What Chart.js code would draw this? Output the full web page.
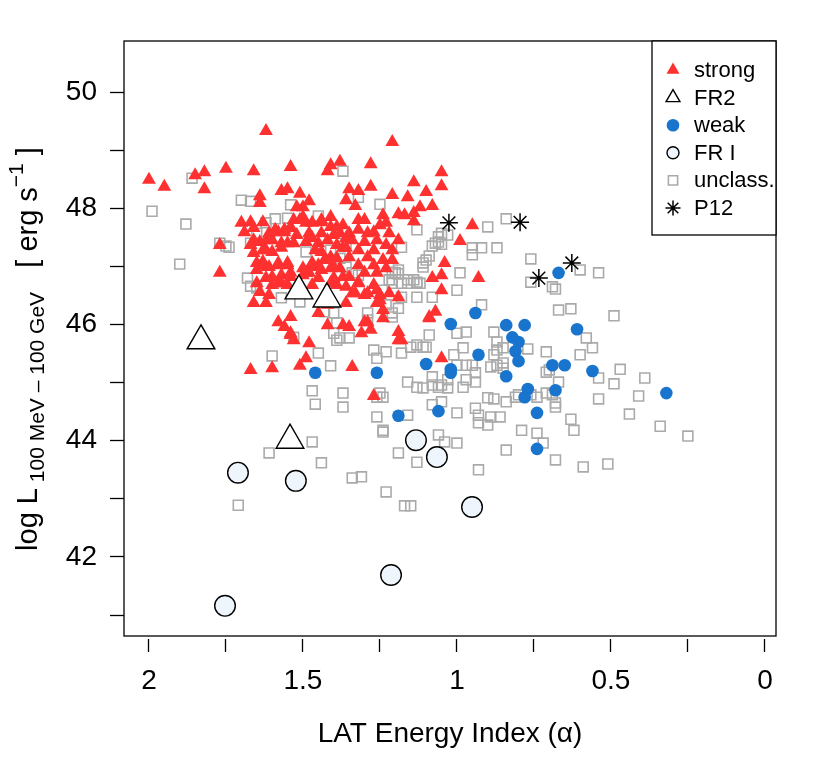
<!DOCTYPE html>
<html>
<head>
<meta charset="utf-8">
<script src="https://cdn.jsdelivr.net/npm/chart.js@4.4.1/dist/chart.umd.min.js"></script>
<style>
  html, body { margin: 0; padding: 0; background: #fff; }
  #wrap { width: 830px; height: 761px; }
</style>
</head>
<body>
<div id="wrap"><canvas id="c" width="830" height="761"></canvas></div>
<script>
const FONT = '"Liberation Sans", Arial, Helvetica, sans-serif';
Chart.defaults.font.family = FONT;
Chart.defaults.color = '#000';

// axis ticks
const xTickValues = [2, 1.75, 1.5, 1.25, 1, 0.75, 0.5, 0.25, 0];
const xTickLabels = ['2', '', '1.5', '', '1', '', '0.5', '', '0'];
const yTickValues = [41, 42, 43, 44, 45, 46, 47, 48, 49, 50];
const yTickLabels = ['', '42', '', '44', '', '46', '', '48', '', '50'];

const legendNames = ['strong', 'FR2', 'weak', 'FR I', 'unclass.', 'P12'];

// [alpha, log L]
const strongPts = [
  [2.00,48.49],[1.95,48.37],[1.85,48.57],[1.82,48.62],[1.82,48.33],[1.75,48.68],[1.66,48.64],[1.62,49.33],
  [1.54,48.71],[1.41,48.74],[1.38,48.80],[1.42,48.64],[1.21,49.14],[1.28,48.76],[1.05,48.62],[1.05,48.38],
  [1.14,48.45],[1.28,48.37],[1.35,48.33],[1.32,48.30],[1.10,48.28],[1.21,48.23],[1.16,48.19],[1.36,48.14],
  [1.33,48.04],[1.08,48.04],[1.12,48.02],[1.64,48.21],[1.64,48.09],[1.57,48.30],[1.55,48.33],[1.51,48.25],
  [1.48,48.12],[1.52,48.02],[1.50,48.02],[1.77,47.37],[1.77,46.89],[1.70,47.75],[1.67,47.76],[1.69,47.59],
  [0.95,47.71],[0.99,47.44],[1.04,47.06],[1.05,46.85],[0.93,46.80],[1.08,46.80],[1.05,46.59],[1.24,47.88],
  [1.19,47.90],[1.17,47.88],[1.14,47.92],[1.14,47.78],[1.23,47.75],[1.32,47.80],[1.30,47.80],
  [1.66,47.66],[1.63,47.76],[1.53,47.80],[1.50,47.85],[1.49,47.75],[1.44,47.76],[1.41,47.85],[1.41,47.68],
  [1.61,47.57],[1.58,47.59],[1.56,47.63],[1.54,47.66],[1.52,47.54],[1.48,47.57],[1.47,47.49],[1.44,47.57],
  [1.40,47.54],[1.38,47.57],[1.36,47.49],[1.64,47.42],[1.67,47.37],[1.62,47.45],[1.60,47.45],[1.55,47.40],
  [1.53,47.40],[1.49,47.42],[1.45,47.40],[1.42,47.45],[1.39,47.37],[1.37,47.32],[1.66,47.23],[1.62,47.28],
  [1.60,47.25],[1.57,47.32],[1.46,47.28],[1.44,47.25],[1.41,47.16],[1.39,47.14],[1.63,47.08],[1.65,46.94],
  [1.61,46.99],[1.58,47.02],[1.55,47.02],[1.50,46.97],[1.47,46.99],[1.45,47.02],[1.41,46.97],[1.38,46.97],
  [1.62,46.80],[1.57,46.85],[1.54,46.82],[1.50,46.85],[1.48,46.89],[1.45,46.80],[1.40,46.80],[1.37,46.82],
  [1.60,46.68],[1.47,46.68],[1.41,46.71],
  [1.37,47.71],[1.25,47.71],[1.35,47.57],[1.32,47.63],[1.29,47.57],[1.27,47.59],[1.22,47.57],[1.34,47.45],
  [1.30,47.42],[1.26,47.45],[1.19,47.45],[1.23,47.37],[1.36,47.32],[1.32,47.28],[1.27,47.28],[1.21,47.28],
  [1.35,47.16],[1.29,47.16],[1.24,47.11],[1.21,47.11],[1.32,47.02],[1.27,47.02],[1.23,46.97],[1.30,46.89],
  [1.26,46.89],[1.35,46.82],[1.32,46.73],[1.27,46.68],[1.36,46.65],
  [1.58,46.71],[1.55,46.68],[1.64,46.56],[1.61,46.51],[1.66,46.37],[1.62,46.37],[1.39,46.68],[1.34,46.54],
  [1.25,46.51],[1.26,46.37],[1.24,46.25],[1.24,46.11],[1.19,46.47],[1.36,46.37],[1.42,46.34],[1.30,46.51],
  [1.54,46.13],[1.58,46.04],[1.56,45.96],[1.42,45.99],[1.37,45.99],[1.35,45.96],[1.30,46.04],[1.28,45.91],
  [1.31,45.85],[1.54,45.85],[1.53,45.73],[1.48,45.68],[1.19,45.87],[1.19,45.73],[1.18,45.73],[1.49,45.42],
  [1.34,45.27],[1.60,45.25],[1.09,46.13],[1.07,46.22],[1.05,45.42],
  [1.67,45.22],[1.51,45.29],[1.54,45.82],[1.45,46.20],
  [1.32,46.71],[1.33,46.54],[1.29,46.54],[1.26,46.59],[1.22,46.54],[1.25,46.42],[1.29,46.04],[1.09,46.11],
  [1.27,44.77],
  [1.66,47.45],[1.63,47.28],[1.57,47.40],[1.59,47.63],[1.56,47.59],[1.54,47.68],[1.51,47.80],[1.47,47.75],
  [1.44,47.80],[1.39,47.68],[1.65,47.06],[1.63,46.99],[1.58,47.06],[1.55,47.06],[1.47,47.06],[1.43,47.11],
  [1.60,46.82],[1.54,46.89],[1.49,46.89],[1.44,46.94],[1.40,46.99],[1.65,46.71],[1.57,46.71]
];

const fr2Pts = [[1.831,45.72],[1.513,46.58],[1.422,46.44],[1.542,44.01]];

const weakPts = [
  [1.46,45.17],[1.26,45.17],[1.19,44.43],[1.10,45.32],[1.06,44.51],[1.02,46.01],[1.02,45.23],[1.02,45.17],
  [0.94,46.20],[0.93,45.48],[0.84,45.11],[0.84,45.99],[0.82,45.78],[0.81,45.54],[0.80,45.70],[0.80,45.37],
  [0.78,45.99],[0.78,44.75],[0.77,44.89],[0.74,44.48],[0.74,43.86],[0.69,45.30],[0.68,44.87],[0.67,46.89],
  [0.65,45.30],[0.61,45.92],[0.56,45.20],[0.32,44.82]
];

const fr1Pts = [[1.711,43.45],[1.523,43.31],[1.133,44.01],[1.065,43.72],[0.951,42.86],[1.214,41.69],[1.753,41.16]];

const unclassPts = [
  [1.86,48.52],[1.99,47.95],[1.88,47.73],[1.90,47.04],[1.70,48.14],[1.67,48.12],[1.54,48.06],[1.59,47.82],
  [1.55,47.83],[1.62,47.75],[1.45,47.87],[1.65,47.57],[1.67,47.40],[1.75,47.35],[1.77,47.40],[1.49,47.25],
  [1.41,47.28],[1.37,48.64],[1.68,46.80],[1.67,46.66],[1.65,46.63],[1.74,47.33],[1.36,47.40],
  [1.25,48.07],[1.32,48.19],[1.13,47.63],[1.03,47.54],[1.06,47.51],[1.05,47.38],[1.06,47.42],[1.08,47.35],
  [1.09,47.18],[1.11,47.06],[1.11,46.99],[1.18,47.33],[0.90,47.68],[0.84,47.82],[0.95,47.32],[0.92,47.32],
  [0.87,47.32],[0.95,47.20],[0.76,47.13],[0.99,46.89],[1.20,46.89],[1.19,46.87],[1.18,46.71],[1.13,46.73],
  [1.13,46.71],[1.22,46.77],[1.00,46.59],[0.69,46.65],[0.76,46.73],[1.32,46.85],[1.34,46.89],
  [1.07,47.40],[1.05,47.57],[1.10,47.11],[1.21,46.90],[1.19,46.94],[1.21,46.77],[1.14,46.77],[1.38,47.14],
  [1.36,46.99],
  [0.60,46.94],[0.54,46.89],[0.68,46.61],[0.67,46.25],[0.63,46.27],[0.49,46.15],[0.58,45.77],[0.56,45.60],
  [0.60,45.48],[0.47,45.23],[0.54,45.08],[0.49,44.98],[0.39,45.08],[0.67,45.01],[0.54,44.72],[0.41,44.77],
  [0.68,44.58],[0.44,44.46],[0.63,44.37],[0.62,44.18],[0.34,44.25],[0.25,44.08],[0.68,43.67],[0.59,43.55],
  [0.51,43.60],
  [1.21,46.71],[1.16,46.71],[1.12,46.71],[1.24,46.59],[1.18,46.47],[1.13,46.47],[1.08,46.47],[1.19,46.28],
  [1.21,46.13],[1.35,45.77],[1.38,45.77],[1.37,44.58],[1.37,44.82],[1.27,45.56],[1.23,45.53],[1.26,45.42],
  [1.18,45.51],[1.15,45.61],[1.11,45.61],[1.10,45.61],[1.09,45.82],[1.00,45.85],[0.97,45.87],[0.98,45.60],
  [1.01,45.48],[1.00,45.30],[0.97,45.30],[0.95,45.30],[0.94,45.17],[0.97,45.05],[0.94,45.01],[0.98,44.92],
  [1.03,45.05],[1.05,44.96],[1.03,44.91],[1.06,44.92],[1.08,44.96],[1.08,45.10],[1.11,44.91],[1.13,44.92],
  [1.16,45.01],[1.25,44.82],[1.24,44.75],[1.26,44.75],[1.08,44.62],[1.05,44.67],[1.00,44.48],[0.92,46.34],
  [0.88,45.87],[0.87,45.70],[0.87,45.56],[0.85,45.60],[0.88,45.48],[0.87,45.30],[0.89,45.27],[0.85,45.25],
  [0.85,45.34],[0.77,45.58],[0.71,45.53],[0.71,45.18],[0.70,45.22],[0.69,44.79],[0.71,44.82],[0.74,44.75],
  [0.76,44.79],[0.68,44.65],[0.80,44.79],[0.81,44.75],[0.84,44.67],[0.88,44.72],[0.90,44.74],[0.94,44.56],
  [0.93,44.44],[0.89,44.41],[0.86,44.41],[0.93,44.31],[0.90,44.27],[1.16,44.44],[1.26,44.41],[1.24,44.18],
  [1.06,44.10],[1.04,43.98],[1.00,43.96],[1.13,43.63],[1.19,43.79],[0.93,43.50],[0.84,43.84],[0.79,44.18],
  [0.74,44.13],[0.72,43.96],[1.31,43.38],[1.34,43.36],
  [1.57,46.46],[1.51,46.39],[1.40,46.20],[1.43,46.22],[1.39,46.03],[1.39,45.73],[1.53,45.78],[1.60,45.46],
  [1.45,45.51],[1.41,45.29],[1.47,44.86],[1.46,44.63],[1.47,43.98],[1.61,43.79],[1.44,43.62],
  [1.24,44.15],[1.23,43.12],[1.17,42.88],[1.15,42.88],[1.71,42.89],
  [1.16,46.77],[1.23,46.34],[1.21,46.20],[1.29,46.20],[1.29,46.08],[1.40,45.85],[1.13,45.65]
];

const p12Pts = [[1.026,47.75],[0.795,47.76],[0.734,46.80],[0.627,47.06]];

const toXY = pts => pts.map(p => ({ x: p[0], y: p[1] }));

const styles = {
  strong:  { pointStyle: 'triangle', bg: '#ff3030', border: '#ff3030', bw: 0, r: 8, lr: 7.5 },
  fr2:     { pointStyle: 'triangle', bg: '#ffffff', border: '#000000', bw: 1.4, r: 16, lr: 8 },
  weak:    { pointStyle: 'circle', bg: '#1874cd', border: '#1874cd', bw: 0, r: 6.3, lr: 6.3 },
  fr1:     { pointStyle: 'circle', bg: '#eef5fc', border: '#000000', bw: 1.4, r: 10.3, lr: 6 },
  unclass: { pointStyle: 'rect', bg: 'rgba(0,0,0,0)', border: '#aaaaaa', bw: 1.6, r: 7, lr: 6.5 },
  p12:     { pointStyle: 'star', bg: '#000000', border: '#000000', bw: 1.5, r: 9, lr: 7.5 }
};
const legendKeys = ['strong', 'fr2', 'weak', 'fr1', 'unclass', 'p12'];

function ds(label, pts, s, order) {
  return {
    label,
    data: toXY(pts),
    pointStyle: s.pointStyle,
    pointRadius: s.r,
    pointBackgroundColor: s.bg,
    pointBorderColor: s.border,
    pointBorderWidth: s.bw,
    showLine: false,
    order
  };
}

// box, rotated y title and legend
const decor = {
  id: 'decor',
  afterDraw(chart) {
    const ctx = chart.ctx;
    const a = chart.chartArea;
    ctx.save();
    ctx.strokeStyle = '#000';
    ctx.lineWidth = 1.3;
    ctx.strokeRect(a.left, a.top, a.right - a.left, a.bottom - a.top);

    // y axis title
    const big = '29px ' + FONT, small = '21px ' + FONT;
    const parts = [
      { t: 'log L', f: big, dy: 0 },
      { t: ' 100 MeV \u2013 100 GeV', f: small, dy: 7 },
      { t: '   [ erg s', f: big, dy: 0 },
      { t: '\u22121', f: small, dy: -14 },
      { t: ' ]', f: big, dy: 0 }
    ];
    let total = 0;
    parts.forEach(p => { ctx.font = p.f; p.w = ctx.measureText(p.t).width; total += p.w; });
    ctx.translate(37, 349);
    ctx.rotate(-Math.PI / 2);
    ctx.fillStyle = '#000';
    ctx.textBaseline = 'alphabetic';
    ctx.textAlign = 'left';
    let x = -total / 2;
    parts.forEach(p => { ctx.font = p.f; ctx.fillText(p.t, x, p.dy); x += p.w; });
    ctx.setTransform(1, 0, 0, 1, 0, 0);

    // legend
    const lx = 652, ly = a.top, lw = a.right - 652, lh = 194;
    ctx.fillStyle = '#fff';
    ctx.fillRect(lx, ly, lw, lh);
    ctx.strokeStyle = '#000';
    ctx.lineWidth = 1.3;
    ctx.strokeRect(lx, ly, lw, lh);
    ctx.font = '22px ' + FONT;
    ctx.textBaseline = 'middle';
    legendKeys.forEach((k, i) => {
      const s = styles[k];
      const y = ly + 29 + i * 27.6;
      ctx.fillStyle = s.bg;
      ctx.strokeStyle = s.border;
      ctx.lineWidth = s.bw;
      Chart.helpers.drawPoint(ctx, { pointStyle: s.pointStyle, radius: s.lr, rotation: 0, borderWidth: s.bw }, 673, y);
      ctx.fillStyle = '#000';
      ctx.fillText(legendNames[i], 694, y + 1);
    });
    ctx.restore();
  }
};

new Chart(document.getElementById('c'), {
  type: 'scatter',
  data: {
    datasets: [
      ds('P12', p12Pts, styles.p12, 1),
      ds('FR I', fr1Pts, styles.fr1, 2),
      ds('FR2', fr2Pts, styles.fr2, 3),
      ds('weak', weakPts, styles.weak, 4),
      ds('strong', strongPts, styles.strong, 5),
      ds('unclass.', unclassPts, styles.unclass, 6)
    ]
  },
  options: {
    responsive: false,
    animation: false,
    devicePixelRatio: 1,
    events: [],
    layout: { padding: { top: 41, right: 54, left: 0, bottom: 0 } },
    plugins: { legend: { display: false }, tooltip: { enabled: false } },
    scales: {
      x: {
        type: 'linear',
        reverse: true,
        min: -0.036,
        max: 2.081,
        afterBuildTicks: s => { s.ticks = xTickValues.map(v => ({ value: v })); },
        afterFit: s => { s.height = 125; },
        border: { display: false },
        grid: {
          drawOnChartArea: false, drawTicks: true, tickLength: 16,
          tickBorderDash: [0, 3, 13, 60], tickColor: '#000', tickWidth: 1.3
        },
        ticks: {
          autoSkip: false, maxRotation: 0, padding: 12, color: '#000',
          font: { size: 28 },
          callback: (v, i) => xTickLabels[i]
        },
        title: {
          display: true, text: 'LAT Energy Index (\u03b1)', color: '#000',
          font: { size: 28 }, padding: { top: 0, bottom: 10 }
        }
      },
      y: {
        type: 'linear',
        min: 40.64,
        max: 50.88,
        afterBuildTicks: s => { s.ticks = yTickValues.map(v => ({ value: v })); },
        afterFit: s => { s.width = 124; },
        border: { display: false },
        grid: { drawOnChartArea: false, drawTicks: true, tickLength: 14, tickColor: '#000', tickWidth: 1.3 },
        ticks: {
          autoSkip: false, padding: 13, color: '#000',
          font: { size: 28 },
          callback: (v, i) => yTickLabels[i]
        }
      }
    }
  },
  plugins: [decor]
});
</script>
</body>
</html>
